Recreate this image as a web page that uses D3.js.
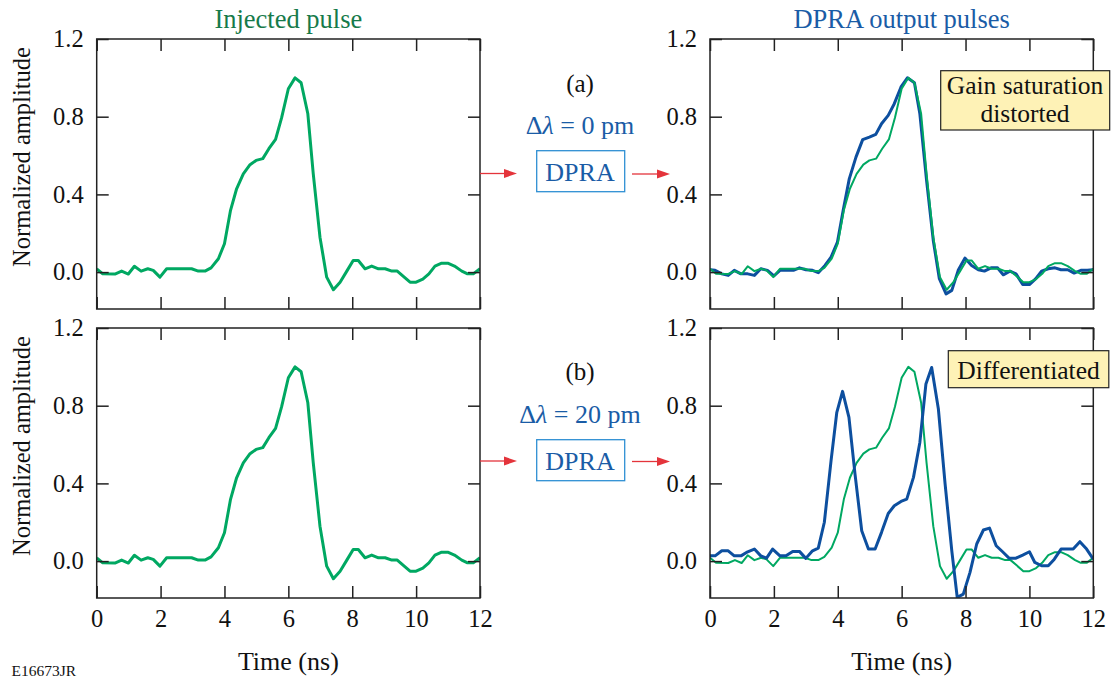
<!DOCTYPE html>
<html>
<head>
<meta charset="utf-8">
<script src="https://cdn.jsdelivr.net/npm/d3@7"></script>
<style>
  body { margin: 0; background: #fff; }
  svg text { font-family: "Liberation Serif", "Times New Roman", serif; }
</style>
</head>
<body>
<script>
// Data: [time (ns), normalized amplitude]
const timeTicks = [0, 2, 4, 6, 8, 10, 12];
const ampTicks = [0, 0.4, 0.8, 1.2];

const injectedPulse = [
  [0, 0.017], [0.19, -0.009], [0.57, -0.01], [0.78, 0.005], [0.99, -0.01], [1.18, 0.03], [1.39, 0.005],
  [1.6, 0.017], [1.77, 0.009], [1.98, -0.026], [2.19, 0.017], [2.97, 0.017], [3.18, 0.005], [3.39, 0.005],
  [3.58, 0.022], [3.81, 0.069], [4.0, 0.146], [4.19, 0.318], [4.38, 0.429], [4.59, 0.506], [4.8, 0.553],
  [4.99, 0.575], [5.2, 0.584], [5.39, 0.635], [5.6, 0.683], [5.79, 0.795], [6.0, 0.944], [6.21, 1.0],
  [6.4, 0.975], [6.61, 0.815], [6.78, 0.506], [6.99, 0.18], [7.2, -0.026], [7.41, -0.091], [7.62, -0.052],
  [7.83, 0.005], [8.03, 0.06], [8.19, 0.06], [8.4, 0.017], [8.61, 0.031], [8.82, 0.017], [9.03, 0.017],
  [9.24, 0.005], [9.41, 0.005], [9.6, -0.022], [9.81, -0.052], [10.0, -0.052], [10.21, -0.036], [10.4, -0.009],
  [10.59, 0.031], [10.8, 0.046], [10.99, 0.046], [11.2, 0.031], [11.43, 0.005], [11.61, -0.009], [11.79, -0.009],
  [12, 0.017]
];

// (a) delta lambda = 0 pm
const outputA = [
  [0, 0.012], [0.16, 0.009], [0.37, -0.009], [0.57, -0.017], [0.76, 0.009], [0.97, -0.009], [1.18, -0.009],
  [1.39, -0.017], [1.59, 0.017], [1.8, 0.009], [2.0, -0.02], [2.19, 0.009], [2.61, 0.009], [2.8, 0.022],
  [3.0, 0.012], [3.21, 0.009], [3.39, -0.003], [3.6, 0.034], [3.79, 0.077], [3.99, 0.155], [4.17, 0.318],
  [4.36, 0.48], [4.57, 0.592], [4.78, 0.682], [4.99, 0.695], [5.19, 0.709], [5.37, 0.764], [5.58, 0.807],
  [5.77, 0.867], [5.98, 0.953], [6.18, 1.0], [6.4, 0.975], [6.57, 0.815], [6.78, 0.472], [6.99, 0.163],
  [7.18, -0.034], [7.39, -0.112], [7.57, -0.094], [7.77, 0.009], [7.98, 0.072], [8.19, 0.034], [8.4, 0.012],
  [8.59, 0.005], [8.8, 0.022], [9.0, 0.022], [9.18, -0.014], [9.39, 0.005], [9.58, -0.009], [9.79, -0.064],
  [10.0, -0.064], [10.2, -0.034], [10.38, 0.005], [10.59, 0.017], [10.8, 0.022], [10.99, 0.012], [11.2, 0.012],
  [11.4, -0.005], [11.61, 0.009], [11.81, 0.009], [12, 0.012]
];

// (b) delta lambda = 20 pm
const outputB = [
  [0, 0.027], [0.16, 0.027], [0.37, 0.053], [0.57, 0.053], [0.76, 0.027], [0.97, 0.027], [1.18, 0.048],
  [1.39, 0.062], [1.59, 0.027], [1.77, 0.015], [1.96, 0.062], [2.19, 0.027], [2.38, 0.027], [2.59, 0.05],
  [2.8, 0.05], [3.0, 0.014], [3.21, 0.053], [3.39, 0.067], [3.58, 0.2], [3.79, 0.517], [3.97, 0.766],
  [4.15, 0.874], [4.35, 0.74], [4.54, 0.448], [4.75, 0.156], [4.96, 0.062], [5.17, 0.062], [5.37, 0.148],
  [5.58, 0.245], [5.77, 0.285], [5.98, 0.307], [6.16, 0.319], [6.37, 0.431], [6.57, 0.611], [6.76, 0.912],
  [6.94, 0.997], [7.15, 0.783], [7.36, 0.397], [7.57, 0.053], [7.74, -0.187], [7.93, -0.17], [8.14, -0.058],
  [8.35, 0.088], [8.56, 0.16], [8.75, 0.17], [8.96, 0.079], [9.16, 0.048], [9.37, 0.014], [9.58, 0.015],
  [9.79, 0.031], [10.0, 0.048], [10.17, -0.007], [10.38, -0.024], [10.59, -0.024], [10.78, 0.01], [10.99, 0.062],
  [11.2, 0.062], [11.37, 0.062], [11.58, 0.1], [11.79, 0.062], [12.0, 0.01]
];

const columnTitles = ['Injected pulse', 'DPRA output pulses'];
const rowLabels = ['(a)', '(b)'];
const detuning = ['0', '20'];
const notes = [['Gain saturation', 'distorted'], ['Differentiated']];

const green = '#00a862';
const blue = '#0d4f9f';
const textBlue = '#1a5ca6';
const red = '#e4343b';

const W = 1115, H = 679;
const pw = 383.3, ph = 270; // panel size
const colX = [96.7, 710];
const rowY = [39, 328];

const svg = d3.select('body').append('svg')
  .attr('width', W).attr('height', H);

const x = d3.scaleLinear().domain([0, 12]).range([0, pw]);
const y = d3.scaleLinear().domain([-0.19, 1.2]).range([ph, 0]);
const line = d3.line().x(d => x(d[0])).y(d => y(d[1]));

// each panel: which series, and whether it gets x labels
const panels = [
  { col: 0, row: 0, series: [{ data: injectedPulse, color: green, w: 3 }] },
  { col: 1, row: 0, series: [{ data: outputA, color: blue, w: 3 }, { data: injectedPulse, color: green, w: 2 }] },
  { col: 0, row: 1, series: [{ data: injectedPulse, color: green, w: 3 }] },
  { col: 1, row: 1, series: [{ data: injectedPulse, color: green, w: 2 }, { data: outputB, color: blue, w: 3 }] }
];

panels.forEach((p, i) => {
  const g = svg.append('g').attr('transform', `translate(${colX[p.col]},${rowY[p.row]})`);

  g.append('clipPath').attr('id', 'clip' + i)
    .append('rect').attr('width', pw).attr('height', ph);

  // curves
  p.series.forEach(s => {
    g.append('path')
      .datum(s.data)
      .attr('clip-path', `url(#clip${i})`)
      .attr('fill', 'none')
      .attr('stroke', s.color)
      .attr('stroke-width', s.w)
      .attr('stroke-linejoin', 'round')
      .attr('d', line);
  });

  const bottomLabels = p.row === 1;

  // inward ticks on all four sides
  const axes = [
    { ax: d3.axisLeft(y).tickValues(ampTicks).tickFormat(d3.format('.1f')).tickPadding(13), t: null },
    { ax: d3.axisRight(y).tickValues(ampTicks).tickFormat(''), t: `translate(${pw},0)` },
    { ax: d3.axisTop(x).tickValues(timeTicks).tickFormat(''), t: null },
    { ax: d3.axisBottom(x).tickValues(timeTicks).tickFormat(bottomLabels ? d3.format('d') : '').tickPadding(12), t: `translate(0,${ph})` }
  ];
  axes.forEach(a => {
    const ga = g.append('g').call(a.ax.tickSize(-12).tickSizeOuter(0));
    if (a.t) ga.attr('transform', a.t);
    ga.attr('font-family', null).attr('font-size', null);
    ga.select('.domain').remove();
    ga.selectAll('line').attr('stroke', '#222').attr('stroke-width', 1.5);
    ga.selectAll('text').attr('fill', '#111').style('font-size', '24.5px');
  });

  // frame
  g.append('rect')
    .attr('width', pw).attr('height', ph)
    .attr('fill', 'none').attr('stroke', '#222').attr('stroke-width', 1.5);

  if (p.col === 0) {
    g.append('text')
      .attr('transform', `translate(${30 - colX[0]},${ph / 2 - 17}) rotate(-90)`)
      .attr('text-anchor', 'middle')
      .style('font-size', '24.5px').attr('fill', '#111')
      .text('Normalized amplitude');
  }
  if (p.row === 0) {
    g.append('text')
      .attr('x', pw / 2).attr('y', -11)
      .attr('text-anchor', 'middle')
      .style('font-size', '26.5px')
      .attr('fill', p.col === 0 ? '#167a4a' : textBlue)
      .text(columnTitles[p.col]);
  } else {
    g.append('text')
      .attr('x', pw / 2).attr('y', ph + 71.5)
      .attr('text-anchor', 'middle')
      .style('font-size', '26px').attr('fill', '#111')
      .text('Time (ns)');
  }
});

// middle column: label, detuning, DPRA box and arrows
const midX = 580;
const mid = [
  { top: rowY[0], arrowY: 173.5 },
  { top: rowY[1], arrowY: 461 }
];

function arrow(x1, x2, yy) {
  svg.append('line')
    .attr('x1', x1).attr('x2', x2 - 10).attr('y1', yy).attr('y2', yy)
    .attr('stroke', red).attr('stroke-width', 1.3);
  svg.append('path')
    .attr('d', `M${x2},${yy} L${x2 - 13},${yy - 4.5} L${x2 - 13},${yy + 4.5} Z`)
    .attr('fill', red);
}

mid.forEach((m, i) => {
  const off = m.top - rowY[0];
  svg.append('text')
    .attr('x', midX).attr('y', 92 + off - (i ? 1 : 0))
    .attr('text-anchor', 'middle')
    .style('font-size', '25px').attr('fill', '#111')
    .text(rowLabels[i]);

  const dl = svg.append('text')
    .attr('x', midX).attr('y', 133.5 + off)
    .attr('text-anchor', 'middle')
    .style('font-size', '26px').attr('fill', textBlue);
  dl.append('tspan').text('Δ');
  dl.append('tspan').style('font-style', 'italic').text('λ');
  dl.append('tspan').text(' = ' + detuning[i] + ' pm');

  svg.append('rect')
    .attr('x', 536.7).attr('y', 150.7 + off)
    .attr('width', 88).attr('height', 41)
    .attr('fill', '#fff').attr('stroke', '#2e8fd3').attr('stroke-width', 1.3);
  svg.append('text')
    .attr('x', midX).attr('y', 181 + off)
    .attr('text-anchor', 'middle')
    .style('font-size', '26px').attr('fill', textBlue)
    .text('DPRA');

  arrow(colX[0] + pw, 517, m.arrowY);
  arrow(632, 670, m.arrowY + 0.5);
});

// note boxes on the output panels
const noteBoxes = [
  { x: 940.7, y: 70.7, w: 169, h: 59.3, lines: [94, 121.7], cx: 1025 },
  { x: 948.3, y: 350.7, w: 160.5, h: 37, lines: [379], cx: 1028.5 }
];
noteBoxes.forEach((b, i) => {
  svg.append('rect')
    .attr('x', b.x).attr('y', b.y).attr('width', b.w).attr('height', b.h)
    .attr('fill', '#fef2b6').attr('stroke', '#222').attr('stroke-width', 1.2);
  notes[i].forEach((t, j) => {
    svg.append('text')
      .attr('x', b.cx).attr('y', b.lines[j])
      .attr('text-anchor', 'middle')
      .style('font-size', '25.5px').attr('fill', '#111')
      .text(t);
  });
});

// figure id
svg.append('text')
  .attr('x', 11.5).attr('y', 676)
  .style('font-size', '15.5px').attr('fill', '#111')
  .text('E16673JR');
</script>
</body>
</html>
